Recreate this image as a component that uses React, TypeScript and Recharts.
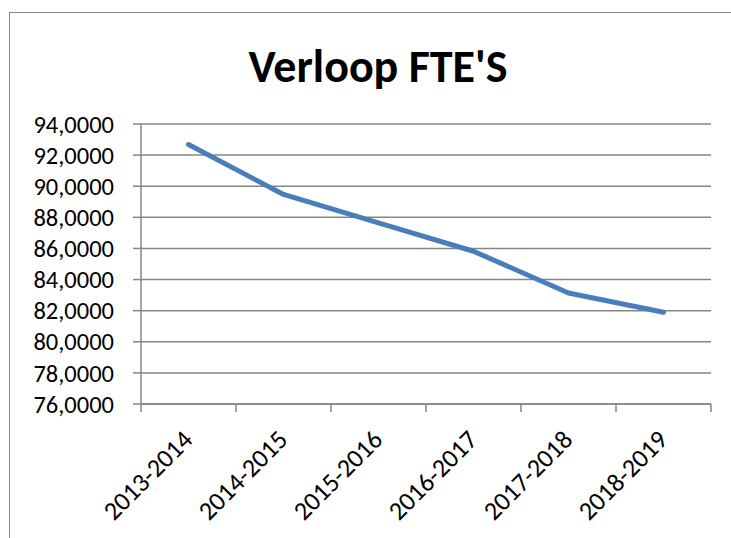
import React from "react";
import { LineChart, Line, XAxis, YAxis, CartesianGrid } from "recharts";

const categories = ["2013-2014", "2014-2015", "2015-2016", "2016-2017", "2017-2018", "2018-2019"];
const fteValues = [92.68, 89.47, 87.65, 85.82, 83.14, 81.9];
const yTicks = [76, 78, 80, 82, 84, 86, 88, 90, 92, 94];
const title = "Verloop FTE'S";

const data = categories.map((c, i) => ({ name: c, fte: fteValues[i] }));
const boundaryTicks = categories.map((_, i) => i).concat([categories.length]);

const FONT = "Carlito, Lato, 'Liberation Sans', sans-serif";
const AXIS = "#868686";

const fmt = (v: number) => v.toFixed(4).replace(".", ",");

const XLabel = (props: any) => {
  const { x, y, payload } = props;
  return (
    <g transform={`translate(${x},${y})`}>
      <text
        x={0}
        y={0}
        dx={-16}
        dy={24}
        transform="rotate(-45)"
        textAnchor="end"
        fill="#000"
        fontSize={26}
        fontFamily={FONT}
      >
        {payload.value}
      </text>
    </g>
  );
};

export default function App() {
  return (
    <div style={{ position: "absolute", left: 0, top: 0, width: 731, height: 538, background: "#fff", overflow: "hidden" }}>
      <div
        style={{
          position: "absolute",
          left: 9,
          top: 12,
          width: 760,
          height: 560,
          borderLeft: `1.5px solid ${AXIS}`,
          borderTop: `1.5px solid ${AXIS}`,
        }}
      />
      <div
        style={{
          position: "absolute",
          left: 0,
          top: 36,
          width: 756,
          textAlign: "center",
          fontFamily: FONT,
          fontWeight: 700,
          fontSize: 46,
          lineHeight: "60px",
          color: "#000",
        }}
      >
        {title}
      </div>
      <div style={{ position: "absolute", left: 0, top: 0 }}>
        <LineChart width={731} height={538} data={data} margin={{ top: 124, right: 20, bottom: 13, left: 0 }}>
          <CartesianGrid vertical={false} stroke={AXIS} strokeWidth={1.5} />
          <XAxis
            xAxisId="b"
            dataKey="name"
            type="category"
            scale="band"
            axisLine={false}
            tickLine={false}
            interval={0}
            tick={<XLabel />}
            height={120}
          />
          <XAxis
            xAxisId="a"
            type="number"
            dataKey={(_: any, i: number) => i}
            domain={[0, categories.length]}
            ticks={boundaryTicks}
            tickFormatter={() => ""}
            height={1}
            axisLine={{ stroke: AXIS, strokeWidth: 1.5 }}
            tickLine={{ stroke: AXIS, strokeWidth: 1.5 }}
            tickSize={8}
            allowDataOverflow
          />
          <YAxis
            domain={[76, 94]}
            ticks={yTicks}
            tickFormatter={fmt}
            width={141}
            axisLine={{ stroke: AXIS, strokeWidth: 1.5 }}
            tickLine={{ stroke: AXIS, strokeWidth: 1.5 }}
            tickSize={8}
            tickMargin={19}
            tick={{ fill: "#000", fontSize: 24.5, fontFamily: FONT }}
            interval={0}
          />
          <Line
            xAxisId="b"
            type="linear"
            dataKey="fte"
            stroke="#4A7EBB"
            strokeWidth={5}
            strokeLinecap="round"
            strokeLinejoin="round"
            dot={false}
            activeDot={false}
            isAnimationActive={false}
          />
        </LineChart>
      </div>
    </div>
  );
}
